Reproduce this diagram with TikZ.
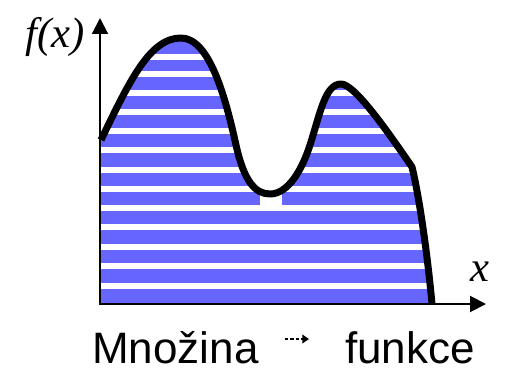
\documentclass[tikz,border=0pt]{standalone}
\usepackage{fontspec}
\setmainfont{Liberation Sans}
\newfontfamily\timesfont{Liberation Serif}
\usetikzlibrary{arrows.meta}
\definecolor{barblue}{RGB}{102,102,255}
\def\graf{(101,140) .. controls (130,80) and (150,38) .. (181,38)
  .. controls (210,38) and (226,100) .. (236,145)
  .. controls (244,181) and (255,194) .. (270,194)
  .. controls (288,194) and (302,170) .. (310,145)
  .. controls (320,114) and (325,84) .. (341,84)
  .. controls (355,84) and (390,135) .. (412,167)
  .. controls (420,200) and (428,260) .. (432,304)}

\begin{document}
\begin{tikzpicture}[x=0.75pt,y=-0.75pt,
    axisline/.style={line width=1.5pt,{Triangle[length=12pt,width=12pt]}-{Triangle[length=12pt,width=12pt]}},
    curveline/.style={line width=5.25pt,line join=round},
    gapline/.style={white,line width=4pt},
    axislabel/.style={font=\timesfont\itshape\fontsize{32}{36}\selectfont,inner sep=0pt},
    word/.style={font=\fontsize{33}{38}\selectfont,inner sep=0pt,anchor=base west},
    wordarrow/.style={line width=1.6pt,dash pattern=on 2.6pt off 1.4pt,-{Triangle[length=5pt,width=6.5pt]}}]
  \useasboundingbox (0,0) rectangle (506,374);
  \coordinate (O) at (100,304);
  \coordinate (ytip) at (100,18);
  \coordinate (xtip) at (486,304);
  % area under the graph, in strips
  \begin{scope}
    \clip \graf -- (101,304) -- cycle;
    \fill[barblue] (100,30) rectangle (440,304);
    \foreach \y in {57,74,93,112,131,150,170,189,208,227,247,266,286}
      \draw[gapline] (100,\y) -- (440,\y);
    \fill[white] (260,180) rectangle (282,207);
  \end{scope}
  \draw[curveline] \graf;
  \draw[axisline] (ytip) |- (xtip);
  \node[axislabel] (fxlabel) at (55,37) {f(x)};
  \node[axislabel] (xlabel) at (480,272) {x};
  \node[word] (set) at (92,363) {Množina};
  \node[word] (func) at (345,363) {funkce};
  \draw[wordarrow] ([shift={(26,-24)}]set.base east) -- ([shift={(-36,-24)}]func.base west);
\end{tikzpicture}
\end{document}
